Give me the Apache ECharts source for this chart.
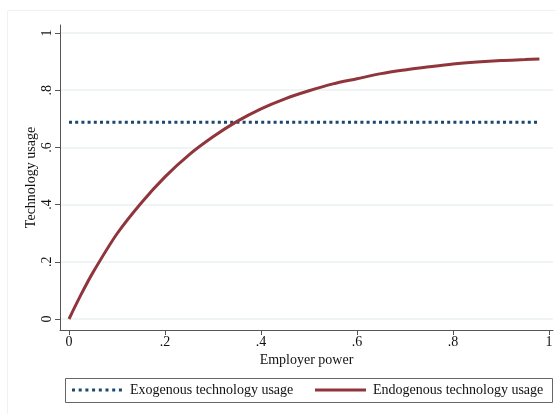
<!DOCTYPE html>
<html>
<head>
<meta charset="utf-8">
<script src="https://cdn.jsdelivr.net/npm/echarts@6/dist/echarts.min.js"></script>
<style>html,body{margin:0;padding:0;background:#fff}#c{width:556px;height:414px}</style>
</head>
<body>
<div id="c"></div>
<script>
var employerPower = [0, 0.025, 0.05, 0.1, 0.15, 0.2, 0.25, 0.3, 0.35, 0.4, 0.45, 0.5, 0.55, 0.6, 0.65, 0.7, 0.75, 0.8, 0.85, 0.9, 0.95, 0.98];
var endogenousUsage = [0, 0.085, 0.163, 0.298, 0.405, 0.497, 0.574, 0.637, 0.691, 0.735, 0.770, 0.798, 0.822, 0.840, 0.858, 0.871, 0.882, 0.892, 0.899, 0.904, 0.907, 0.909];
var exogenousX = [0, 0.98];
var exogenousUsage = [0.688, 0.688];
var xTicks = [0, 0.2, 0.4, 0.6, 0.8, 1];
var yTicks = [0, 0.2, 0.4, 0.6, 0.8, 1];
var seriesNames = ['Exogenous technology usage', 'Endogenous technology usage'];

function fmt(v){ if (v === 0) return '0'; if (v === 1) return '1'; return String(Math.round(v*10)/10).replace(/^0/, ''); }
var font = 'Liberation Serif';
var navy = '#1a476f', maroon = '#90353b';

var legendGraphics = [
  {type: 'rect', shape: {x: 65.5, y: 378.5, width: 487, height: 24}, style: {fill: '#fff', stroke: '#666', lineWidth: 1}, silent: true, z: 10}
];
for (var k = 0; k < 8; k++) {
  legendGraphics.push({type: 'rect', shape: {x: 72 + k * 6.7, y: 388.5, width: 3, height: 3}, style: {fill: navy}, silent: true, z: 11});
}
legendGraphics.push({type: 'text', x: 130, y: 390.5, style: {text: seriesNames[0], fontFamily: font, fontSize: 14, fill: '#111', verticalAlign: 'middle', align: 'left'}, silent: true, z: 11});
legendGraphics.push({type: 'rect', shape: {x: 315, y: 388.5, width: 51, height: 3}, style: {fill: maroon}, silent: true, z: 11});
legendGraphics.push({type: 'text', x: 373, y: 390.5, style: {text: seriesNames[1], fontFamily: font, fontSize: 14, fill: '#111', verticalAlign: 'middle', align: 'left'}, silent: true, z: 11});

var chart = echarts.init(document.getElementById('c'), null, {renderer: 'canvas'});
chart.setOption({
  backgroundColor: '#fff',
  animation: false,
  textStyle: {fontFamily: font},
  graphic: [{type: 'rect', shape: {x: 7.5, y: 10.5, width: 600, height: 500}, style: {fill: null, stroke: '#eef2f4', lineWidth: 1}, silent: true, z: -10}].concat(legendGraphics),
  grid: {left: 60, right: 3, top: 25, bottom: 84},
  xAxis: {
    type: 'value', min: -0.01875, max: 1.00833,
    name: 'Employer power', nameLocation: 'middle', nameGap: 23, nameMoveOverlap: false,
    nameTextStyle: {fontFamily: font, fontSize: 14, color: '#111'},
    axisLine: {show: true, onZero: false, lineStyle: {color: '#555', width: 1}},
    axisTick: {show: true, length: 5, customValues: xTicks, lineStyle: {color: '#555'}},
    axisLabel: {customValues: xTicks, formatter: fmt, fontFamily: font, fontSize: 14, color: '#111', margin: 5},
    splitLine: {show: false}
  },
  yAxis: {
    type: 'value', min: -0.0385, max: 1.028,
    name: 'Technology usage', nameLocation: 'middle', nameGap: 22, nameMoveOverlap: false,
    nameTextStyle: {fontFamily: font, fontSize: 14, color: '#111'},
    axisLine: {show: true, onZero: false, lineStyle: {color: '#555', width: 1}},
    axisTick: {show: true, length: 5, customValues: yTicks, lineStyle: {color: '#555'}},
    axisLabel: {customValues: yTicks, formatter: fmt, rotate: 90, fontFamily: font, fontSize: 14, color: '#111', margin: 6},
    splitLine: {show: false}
  },
  series: [
    {
      type: 'line', name: 'grid', data: [], silent: true, z: 0,
      markLine: {silent: true, z: 0, symbol: ['none','none'], label: {show: false},
        lineStyle: {color: '#eaf1f2', width: 1.5, type: 'solid'},
        data: yTicks.map(function(v){ return {yAxis: v}; })}
    },
    {
      type: 'line', name: seriesNames[0], showSymbol: false, symbol: 'none', z: 3,
      data: exogenousX.map(function(x, i){ return [x, exogenousUsage[i]]; }),
      lineStyle: {color: navy, width: 2.8, type: [3, 3.2], cap: 'butt'},
      itemStyle: {color: navy}
    },
    {
      type: 'line', name: seriesNames[1], showSymbol: false, symbol: 'none', smooth: 0.3, z: 4,
      data: employerPower.map(function(x, i){ return [x, endogenousUsage[i]]; }),
      lineStyle: {color: maroon, width: 3},
      itemStyle: {color: maroon}
    }
  ]
});
</script>
</body>
</html>
